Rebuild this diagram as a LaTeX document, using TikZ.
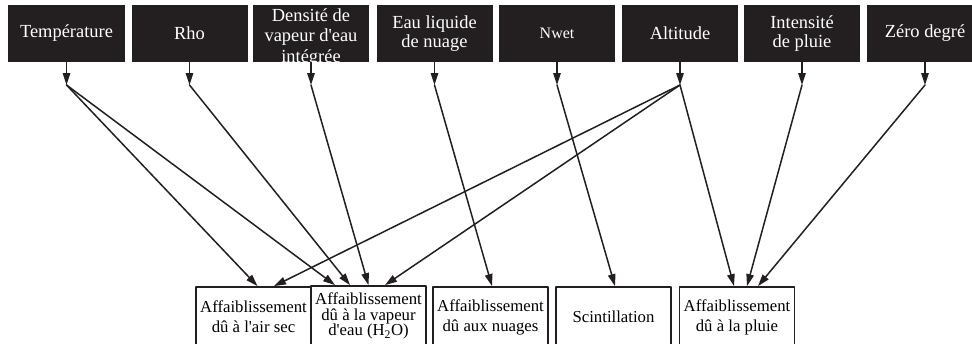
\documentclass[tikz,border=0pt]{standalone}
\usepackage{fontspec}
\setmainfont{Liberation Serif}
\usepackage{xcolor}
\usetikzlibrary{arrows.meta,positioning,calc}
\definecolor{boxfill}{HTML}{231F20}
\definecolor{linedark}{HTML}{231F20}
\newcommand{\apos}{\textquotesingle}

\begin{document}
\begin{tikzpicture}[line cap=round,line join=round,x=1bp,y=-1bp,>={Triangle[length=12bp,width=7.5bp]},
    param/.style={fill=boxfill,text=white,minimum width=116bp,minimum height=57bp,inner sep=0pt,align=center,font=\fontsize{18.5}{18.5}\selectfont},
    effet/.style={draw=linedark,line width=1.8bp,minimum width=115bp,minimum height=60bp,inner sep=0pt,align=center,font=\fontsize{16.8}{20}\selectfont},
    link/.style={->,line width=1.5bp,draw=linedark}]
    \useasboundingbox (0,0) rectangle (972,343);
    % parametres
    \node [param] (temp) at (66.5,33.5) {Température};
    \node [param] (rho) at (189.5,33.5) {Rho};
    \node [param] (densite) at (311,33.5) {};
    \node [text=white,align=center,inner sep=0pt,font=\fontsize{18.5}{20.5}\selectfont] at ([yshift=-4bp]densite.center) {Densité de\\vapeur d\apos eau\\intégrée};
    \node [param] (eau) at (434.5,33.5) {Eau liquide\\de nuage};
    \node [param,font=\fontsize{16}{16}\selectfont] (nwet) at (557,33.5) {Nwet};
    \node [param] (alt) at (680,33.5) {Altitude};
    \node [param] (intens) at (802,33.5) {Intensité\\de pluie};
    \node [param] (zero) at (925,33.5) {Zéro degré};
    % effets
    \node [effet] (airsec) at (253.5,317) {Affaiblissement\\dû à l\apos air sec};
    \node [effet,font=\fontsize{16.8}{15.5}\selectfont] (vapeur) at (368.5,316) {Affaiblissement\\dû à la vapeur\\d\apos eau (H\textsubscript{2}O)};
    \node [effet] (nuages) at (490.5,317) {Affaiblissement\\dû aux nuages};
    \node [effet] (scint) at (613.5,317) {Scintillation};
    \node [effet] (pluiebas) at (737,317) {Affaiblissement\\dû à la pluie};
    % points de depart
    \coordinate (temp-j) at (66.5,85);
    \coordinate (rho-j) at (189.5,85);
    \coordinate (densite-j) at (311,85);
    \coordinate (eau-j) at (434.5,85);
    \coordinate (nwet-j) at (557,85);
    \coordinate (alt-j) at (680,85);
    \coordinate (intens-j) at (802,85);
    \coordinate (zero-j) at (925,85);
    \foreach \p in {temp,rho,densite,eau,nwet,alt,intens,zero}
        \draw [link] (\p.south) -- (\p-j);
    % liaisons
    \draw [link] (temp-j) -- ([xshift=4bp]airsec.north);
    \draw [link] (temp-j) -- ([xshift=-33.5bp]vapeur.north);
    \draw [link] (rho-j) -- ([xshift=-18.5bp]vapeur.north);
    \draw [link] (densite-j) -- (vapeur.north);
    \draw [link] (alt-j) -- ([xshift=20.5bp]airsec.north);
    \draw [link] (alt-j) -- ([xshift=16.5bp]vapeur.north);
    \draw [link] (alt-j) -- ([xshift=-3bp]pluiebas.north);
    \draw [link] (eau-j) -- ([xshift=1.5bp]nuages.north);
    \draw [link] (nwet-j) -- ([xshift=1.5bp]scint.north);
    \draw [link] (intens-j) -- ([xshift=10bp]pluiebas.north);
    \draw [link] (zero-j) -- ([xshift=21bp]pluiebas.north);
\end{tikzpicture}
\end{document}
